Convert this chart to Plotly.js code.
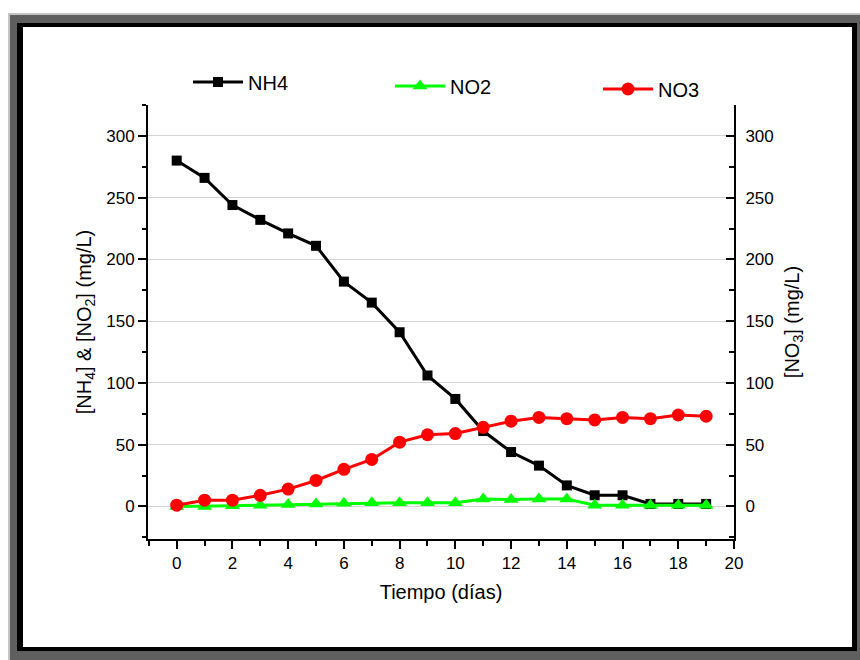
<!DOCTYPE html>
<html>
<head>
<meta charset="utf-8">
<script src="https://cdn.plot.ly/plotly-3.0.1.min.js"></script>
<style>
html,body{margin:0;padding:0;background:#fff;}
#wrap{position:relative;width:860px;height:660px;overflow:hidden;}
#outer{position:absolute;left:8px;top:13px;width:852px;height:647px;background:#5f5f5f;border-top:2px solid #c4c4c4;border-left:2px solid #c4c4c4;box-sizing:border-box;}
#inner{position:absolute;left:17px;top:23px;width:840px;height:628px;background:#fff;border-style:solid;border-color:#000;border-width:4px 5px 4px 6px;box-sizing:border-box;}
#chart{position:absolute;left:0;top:0;width:860px;height:660px;}
</style>
</head>
<body>
<div id="wrap">
  <div id="outer"></div>
  <div id="inner"></div>
  <div id="chart"></div>
</div>
<script>
// Data
const days = [0,1,2,3,4,5,6,7,8,9,10,11,12,13,14,15,16,17,18,19];
const nh4  = [280,266,244,232,221,211,182,165,141,106,87,61,44,33,17,9,9,2,2,2];
const no2  = [0,0,0.5,1,1.5,2,2.5,3,3,3,3,6,5.5,6,6,1,1,1,1,1];
const no3  = [1,5,5,9,14,21,30,38,52,58,59,64,69,72,71,70,72,71,74,73];
const seriesNames = ['NH4','NO2','NO3'];
const xTitle = 'Tiempo (días)';
const yTitle = '[NH<sub>4</sub>] &amp; [NO<sub>2</sub>] (mg/L)';
const y2Title = '[NO<sub>3</sub>] (mg/L)';

const FONT = 'Liberation Sans, Arial, sans-serif';

const traces = [
  {x: days, y: nh4, name: seriesNames[0], type: 'scatter', mode: 'lines+markers',
   line: {color: '#000000', width: 3},
   marker: {symbol: 'square', size: 10, color: '#000000'},
   legend: 'legend', yaxis: 'y'},
  {x: days, y: no2, name: seriesNames[1], type: 'scatter', mode: 'lines+markers',
   line: {color: '#00ff00', width: 3},
   marker: {symbol: 'triangle-up', size: 13, color: '#00ff00'},
   legend: 'legend2', yaxis: 'y'},
  {x: days, y: no3, name: seriesNames[2], type: 'scatter', mode: 'lines+markers',
   line: {color: '#ff0000', width: 3},
   marker: {symbol: 'circle', size: 13, color: '#ff0000'},
   legend: 'legend3', yaxis: 'y2'}
];

function leg(px, py) {
  return {x: px/860, y: 1 - py/660, xref: 'container', yref: 'container',
          xanchor: 'left', yanchor: 'middle', orientation: 'h',
          bgcolor: 'rgba(0,0,0,0)', borderwidth: 0, itemwidth: 50,
          font: {family: FONT, size: 20, color: '#000'}};
}

const yRange = [-26.4, 325];

const layout = {
  width: 860, height: 660,
  paper_bgcolor: 'rgba(0,0,0,0)', plot_bgcolor: 'rgba(0,0,0,0)',
  margin: {l: 148, r: 126, t: 105, b: 121, autoexpand: false},
  font: {family: FONT, color: '#000'},
  showlegend: true,
  legend: leg(188, 82),
  legend2: leg(390, 86),
  legend3: leg(598, 89),
  xaxis: {
    range: [-1.03, 20], tick0: 0, dtick: 2,
    ticks: 'outside', ticklen: 8, tickwidth: 2, tickcolor: '#000',
    minor: {tick0: 0, dtick: 1, ticks: 'outside', ticklen: 5, tickwidth: 2, tickcolor: '#000', showgrid: false},
    showline: true, linewidth: 2, linecolor: '#000',
    showgrid: false, zeroline: false,
    tickfont: {family: FONT, size: 17, color: '#000'},
    title: {text: xTitle, font: {family: FONT, size: 20, color: '#000'}, standoff: 13},
    automargin: false
  },
  yaxis: {
    range: yRange, tick0: 0, dtick: 50,
    ticks: 'outside', ticklen: 8, tickwidth: 2, tickcolor: '#000',
    minor: {tick0: 0, dtick: 25, ticks: 'outside', ticklen: 4, tickwidth: 2, tickcolor: '#000', showgrid: false},
    showline: true, linewidth: 2, linecolor: '#000',
    showgrid: true, gridcolor: '#d4d4d4', gridwidth: 1, zeroline: false,
    tickfont: {family: FONT, size: 17, color: '#000'},
    title: {text: yTitle, font: {family: FONT, size: 20, color: '#000'}, standoff: 9},
    automargin: false
  },
  yaxis2: {
    range: yRange, tick0: 0, dtick: 50, overlaying: 'y', side: 'right',
    ticks: 'inside', ticklen: 8, tickwidth: 2, tickcolor: '#000',
    minor: {tick0: 0, dtick: 25, ticks: 'inside', ticklen: 5, tickwidth: 2, tickcolor: '#000', showgrid: false},
    showline: true, linewidth: 2, linecolor: '#000',
    showgrid: false, zeroline: false,
    tickfont: {family: FONT, size: 17, color: '#000'},
    ticklabelstandoff: 6,
    title: {text: y2Title, font: {family: FONT, size: 20, color: '#000'}, standoff: 12},
    automargin: false
  }
};

Plotly.newPlot('chart', traces, layout, {displayModeBar: false, staticPlot: true});
</script>
</body>
</html>
